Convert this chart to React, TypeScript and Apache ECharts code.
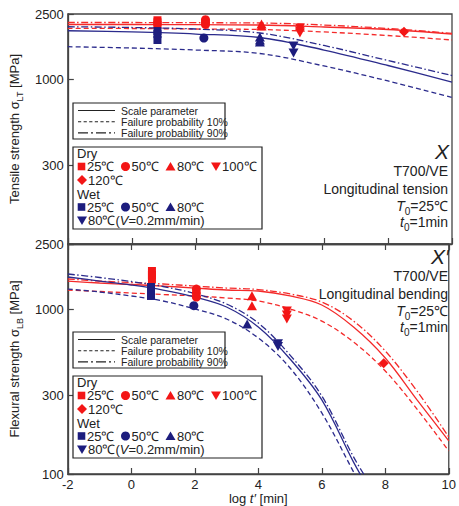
import React, { useEffect, useRef } from 'react';
import * as echarts from 'echarts';

const FONT = '"Liberation Sans", Arial, Helvetica, sans-serif';
const RED = '#f31616';
const NAVY = '#1d1d7e';
const RED_LINE = '#f42a2a';
const NAVY_LINE = '#2b2b8c';
const INK = '#222222';

// x positions (log t' [min]) of the fitted master curves
const LOG_T_TENSION = [-2, 0, 2, 4, 6, 8, 10];
const LOG_T_FLEX_DRY = [-2, -1, 0, 1, 2, 3, 4, 5, 6, 7, 8, 9, 10];
const LOG_T_FLEX_WET = [-2, -1, 0, 1, 2, 3, 4, 5, 6, 7, 7.5];

// Longitudinal tension master curves [MPa]
const tenDryScale = [2158, 2158, 2152, 2143, 2084, 2012, 1889];
const tenDryP10 = [2046, 2041, 2026, 2012, 1944, 1850, 1738];
const tenDryP90 = [2219, 2219, 2213, 2204, 2143, 2041, 1908];
const tenWetScale = [1978, 1944, 1889, 1799, 1510, 1216, 965];
const tenWetP10 = [1582, 1553, 1510, 1438, 1208, 979, 777];
const tenWetP90 = [2092, 2069, 2026, 1916, 1609, 1304, 1057];

// Longitudinal bending master curves [MPa]
const flexDryScale = [1489, 1448, 1418, 1388, 1350, 1313, 1295, 1208, 1064, 782, 507, 282, 159];
const flexDryP10 = [1313, 1286, 1259, 1233, 1208, 1174, 1126, 1007, 850, 634, 423, 248, 138];
const flexDryP90 = [1532, 1489, 1458, 1428, 1388, 1350, 1322, 1242, 1110, 851, 559, 319, 168];
const flexWetScale = [1575, 1489, 1408, 1313, 1191, 1035, 782, 500, 282, 118, 80];
const flexWetP10 = [1331, 1277, 1208, 1126, 1007, 875, 671, 441, 235, 103, 68];
const flexWetP90 = [1643, 1564, 1479, 1379, 1250, 1080, 827, 528, 298, 127, 88];

// Longitudinal tension test results [log t', MPa]
const tenDry25 = [[0.8, 2290], [0.8, 2226], [0.8, 2143]];
const tenDry50 = [[2.3, 2310], [2.3, 2235], [2.3, 2160]];
const tenDry80 = [[4.05, 2175], [4.05, 2110]];
const tenDry100 = [[5.25, 2055], [5.25, 1970], [5.25, 1915]];
const tenDry120 = [[8.5, 1950]];
const tenWet25 = [[0.8, 1969], [0.8, 1887], [0.8, 1738]];
const tenWet50 = [[2.25, 1787]];
const tenWet80 = [[4.0, 1810], [4.0, 1740], [4.0, 1690]];
const tenWetV = [[5.05, 1600], [5.05, 1450]];

// Longitudinal bending test results [log t', MPa]
const flexDry25 = [[0.65, 1713], [0.65, 1620], [0.65, 1532]];
const flexDry50 = [[2.05, 1331], [2.05, 1259], [2.05, 1191]];
const flexDry80 = [[3.8, 1213], [3.8, 1054]];
const flexDry100 = [[4.9, 980], [4.9, 925], [4.9, 875]];
const flexDry120 = [[7.95, 471]];
const flexWet25 = [[0.62, 1370], [0.62, 1277], [0.62, 1208]];
const flexWet50 = [[1.97, 1054]];
const flexWet80 = [[3.65, 816]];
const flexWetV = [[4.62, 620], [4.62, 595]];

const Y_TICKS = [100, 300, 1000, 2500];
const Y_LABELS_TOP = [300, 1000, 2500];
const Y_LABELS_BOTTOM = [100, 300, 1000, 2500];

const DASHED = [5, 3];
const DASH_DOT = [7, 2.5, 1.5, 2.5];

type Pt = number[];

function curve(xs: number[], ys: number[], color: string, dash: any, grid: number) {
  return {
    type: 'line',
    xAxisIndex: grid === 0 ? 0 : 1,
    yAxisIndex: grid,
    data: xs.map((x, i) => [x, ys[i]]),
    smooth: 0.35,
    symbol: 'none',
    silent: true,
    clip: true,
    lineStyle: { color, width: 1.3, type: dash },
    z: 2,
  };
}

function marks(data: Pt[], symbol: string, color: string, grid: number, size: any, rotate = 0) {
  return {
    type: 'scatter',
    xAxisIndex: grid === 0 ? 0 : 1,
    yAxisIndex: grid,
    data,
    symbol,
    symbolSize: size,
    symbolRotate: rotate,
    silent: true,
    itemStyle: { color, opacity: 1 },
    z: 4,
  };
}

function markerSet(grid: number, d: Pt[][]) {
  const [d25, d50, d80, d100, d120, w25, w50, w80, wv] = d;
  return [
    marks(d25, 'rect', RED, grid, 8),
    marks(d50, 'circle', RED, grid, 9),
    marks(d80, 'triangle', RED, grid, [10, 9]),
    marks(d100, 'triangle', RED, grid, [10, 9], 180),
    marks(d120, 'diamond', RED, grid, 10),
    marks(w25, 'rect', NAVY, grid, 8),
    marks(w50, 'circle', NAVY, grid, 9),
    marks(w80, 'triangle', NAVY, grid, [10, 9]),
    marks(wv, 'triangle', NAVY, grid, [10, 9], 180),
  ];
}

function txt(x: number, y: number, text: string, size: number, extra: any = {}) {
  return {
    type: 'text',
    silent: true,
    z: 20,
    style: {
      x,
      y,
      text,
      fill: INK,
      fontFamily: FONT,
      fontSize: size,
      textVerticalAlign: 'middle',
      ...extra,
    },
  };
}

function upTri(cx: number, cy: number, color: string) {
  return {
    type: 'polygon',
    silent: true,
    z: 20,
    shape: { points: [[cx, cy - 4.5], [cx + 5, cy + 4], [cx - 5, cy + 4]] },
    style: { fill: color },
  };
}

function downTri(cx: number, cy: number, color: string) {
  return {
    type: 'polygon',
    silent: true,
    z: 20,
    shape: { points: [[cx - 5, cy - 4], [cx + 5, cy - 4], [cx, cy + 4.5]] },
    style: { fill: color },
  };
}

function square(cx: number, cy: number, color: string) {
  return { type: 'rect', silent: true, z: 20, shape: { x: cx - 3.8, y: cy - 3.8, width: 7.6, height: 7.6 }, style: { fill: color } };
}

function dot(cx: number, cy: number, color: string) {
  return { type: 'circle', silent: true, z: 20, shape: { cx, cy, r: 4.5 }, style: { fill: color } };
}

function diamond(cx: number, cy: number, color: string) {
  return {
    type: 'polygon',
    silent: true,
    z: 20,
    shape: { points: [[cx, cy - 5], [cx + 5, cy], [cx, cy + 5], [cx - 5, cy]] },
    style: { fill: color },
  };
}

function legendLine(x1: number, x2: number, y: number, dash: any) {
  return {
    type: 'line',
    silent: true,
    z: 20,
    shape: { x1, y1: y, x2, y2: y },
    style: { stroke: INK, lineWidth: 1.1, lineDash: dash },
  };
}

// Line-style key and marker key for one panel, shifted down by dy
function legends(dy: number) {
  const els: any[] = [];
  els.push({
    type: 'rect', silent: true, z: 19,
    shape: { x: 73, y: 103 + dy, width: 152, height: 36 },
    style: { fill: '#ffffff', stroke: INK, lineWidth: 1.2 },
  });
  const rows = [
    ['Scale parameter', 'solid'],
    ['Failure probability 10%', [3.2, 2.4]],
    ['Failure probability 90%', [10, 3, 2, 3]],
  ];
  rows.forEach((r, i) => {
    const y = 110.5 + dy + i * 11.2;
    els.push(legendLine(78, 115, y, r[1] === 'solid' ? null : r[1]));
    els.push(txt(121, y, r[0] as string, 10.5));
  });

  els.push({
    type: 'rect', silent: true, z: 19,
    shape: { x: 73, y: 147 + dy, width: 189, height: 82 },
    style: { fill: '#ffffff', stroke: INK, lineWidth: 1.2 },
  });
  const r1 = 153 + dy, r2 = 166.5 + dy, r3 = 180 + dy, r4 = 194 + dy, r5 = 207 + dy, r6 = 220.5 + dy;
  els.push(txt(77, r1, 'Dry', 13));
  els.push(square(81.5, r2, RED), txt(87, r2, '25℃', 13));
  els.push(dot(125.5, r2, RED), txt(131.5, r2, '50℃', 13));
  els.push(upTri(170.5, r2, RED), txt(177, r2, '80℃', 13));
  els.push(downTri(216, r2, RED), txt(222, r2, '100℃', 13));
  els.push(diamond(82, r3, RED), txt(88, r3, '120℃', 13));
  els.push(txt(77, r4, 'Wet', 13));
  els.push(square(81.5, r5, NAVY), txt(87, r5, '25℃', 13));
  els.push(dot(125.5, r5, NAVY), txt(131.5, r5, '50℃', 13));
  els.push(upTri(170.5, r5, NAVY), txt(177, r5, '80℃', 13));
  els.push(downTri(82, r6, NAVY));
  els.push(
    txt(88, r6, '{n|80℃(}{i|V}{n|=0.2mm/min)}', 13, {
      rich: {
        n: { fontSize: 13, fontFamily: FONT, fill: INK },
        i: { fontSize: 13, fontFamily: FONT, fill: INK, fontStyle: 'italic' },
      },
    }),
  );
  return els;
}

const subRich = {
  n: { fontSize: 14, fontFamily: FONT, fill: INK, lineHeight: 18, verticalAlign: 'middle' },
  i: { fontSize: 14, fontFamily: FONT, fill: INK, fontStyle: 'italic', lineHeight: 18, verticalAlign: 'middle' },
  s: { fontSize: 10, fontFamily: FONT, fill: INK, lineHeight: 20, verticalAlign: 'bottom' },
};

function notes(top: number, mark: string, mode: string) {
  const right = 448;
  return [
    txt(right + 1, top - 1, mark, 21, { textAlign: 'right', fontStyle: 'italic' }),
    txt(right, top + 19, 'T700/VE', 14, { textAlign: 'right' }),
    txt(right, top + 36.5, mode, 14, { textAlign: 'right' }),
    txt(right, top + 54, '{i|T}{s|0}{n|=25℃}', 14, { textAlign: 'right', rich: subRich }),
    txt(right, top + 70, '{i|t}{s|0}{n|=1min}', 14, { textAlign: 'right', rich: subRich }),
  ];
}

const axisNameRich = {
  n: { fontSize: 13, fontFamily: FONT, color: INK, lineHeight: 16, verticalAlign: 'middle' },
  s: { fontSize: 9, fontFamily: FONT, color: INK, lineHeight: 19, verticalAlign: 'bottom' },
};

function yAxis(grid: number, labels: number[], name: string) {
  return {
    type: 'log',
    logBase: 10,
    gridIndex: grid,
    min: 100,
    max: 2500,
    name,
    nameLocation: 'middle',
    nameGap: 40,
    nameTextStyle: { fontSize: 13, fontFamily: FONT, color: INK, rich: axisNameRich },
    axisLine: { show: true, onZero: false, lineStyle: { color: '#444', width: 1.3 } },
    axisTick: { show: true, inside: true, length: 6, lineStyle: { color: '#444', width: 1.2 }, customValues: Y_TICKS },
    axisLabel: {
      show: true,
      customValues: labels,
      margin: 4,
      fontSize: 13,
      fontFamily: FONT,
      color: INK,
      formatter: (v: number) => String(Math.round(v)),
    },
    minorTick: { show: false },
    splitLine: { show: false },
  };
}

function xBase(grid: number, position: string) {
  return {
    type: 'value',
    gridIndex: grid,
    position,
    min: -2,
    max: 10,
    interval: 2,
    axisLine: { show: true, onZero: false, lineStyle: { color: '#444', width: 1.3 } },
    axisTick: { show: true, inside: true, length: 6, lineStyle: { color: '#444', width: 1.2 } },
    axisLabel: { show: false },
    splitLine: { show: false },
  };
}

export default function App() {
  const ref = useRef<HTMLDivElement>(null);

  useEffect(() => {
    if (!ref.current) return;
    const chart = echarts.init(ref.current, undefined, { renderer: 'svg' });

    const xAxes = [
      xBase(0, 'bottom'),
      {
        ...xBase(1, 'bottom'),
        axisLabel: { show: true, margin: 4, fontSize: 13, fontFamily: FONT, color: INK },
        name: '{n|log }{i|t′}{n| [min]}',
        nameLocation: 'middle',
        nameGap: 18,
        nameTextStyle: {
          fontSize: 13,
          fontFamily: FONT,
          color: INK,
          rich: {
            n: { fontSize: 13, fontFamily: FONT, color: INK },
            i: { fontSize: 13, fontFamily: FONT, color: INK, fontStyle: 'italic' },
          },
        },
      },
      xBase(1, 'top'),
    ];

    chart.setOption({
      animation: false,
      backgroundColor: '#ffffff',
      textStyle: { fontFamily: FONT },
      grid: [
        { left: 58, top: 14, width: 394, height: 230, show: true, borderColor: '#444', borderWidth: 1.3, backgroundColor: 'transparent' },
        { left: 58, top: 244, width: 394, height: 230, show: true, borderColor: '#444', borderWidth: 1.3, backgroundColor: 'transparent' },
      ],
      xAxis: xAxes,
      yAxis: [
        yAxis(0, Y_LABELS_TOP, '{n|Tensile strength σ}{s|LT}{n| [MPa]}'),
        yAxis(1, Y_LABELS_BOTTOM, '{n|Flexural strength σ}{s|LB}{n| [MPa]}'),
      ],
      series: [
        curve(LOG_T_TENSION, tenDryScale, RED_LINE, 'solid', 0),
        curve(LOG_T_TENSION, tenDryP10, RED_LINE, DASHED, 0),
        curve(LOG_T_TENSION, tenDryP90, RED_LINE, DASH_DOT, 0),
        curve(LOG_T_TENSION, tenWetScale, NAVY_LINE, 'solid', 0),
        curve(LOG_T_TENSION, tenWetP10, NAVY_LINE, DASHED, 0),
        curve(LOG_T_TENSION, tenWetP90, NAVY_LINE, DASH_DOT, 0),
        curve(LOG_T_FLEX_DRY, flexDryScale, RED_LINE, 'solid', 1),
        curve(LOG_T_FLEX_DRY, flexDryP10, RED_LINE, DASHED, 1),
        curve(LOG_T_FLEX_DRY, flexDryP90, RED_LINE, DASH_DOT, 1),
        curve(LOG_T_FLEX_WET, flexWetScale, NAVY_LINE, 'solid', 1),
        curve(LOG_T_FLEX_WET, flexWetP10, NAVY_LINE, DASHED, 1),
        curve(LOG_T_FLEX_WET, flexWetP90, NAVY_LINE, DASH_DOT, 1),
        ...markerSet(0, [tenDry25, tenDry50, tenDry80, tenDry100, tenDry120, tenWet25, tenWet50, tenWet80, tenWetV]),
        ...markerSet(1, [flexDry25, flexDry50, flexDry80, flexDry100, flexDry120, flexWet25, flexWet50, flexWet80, flexWetV]),
      ],
      graphic: [
        ...legends(0),
        ...legends(229),
        ...notes(152, 'X', 'Longitudinal tension'),
        ...notes(257, 'X′', 'Longitudinal bending'),
      ],
    });

    return () => chart.dispose();
  }, []);

  return <div ref={ref} style={{ position: 'fixed', left: 0, top: 0, width: 459, height: 506 }} />;
}
